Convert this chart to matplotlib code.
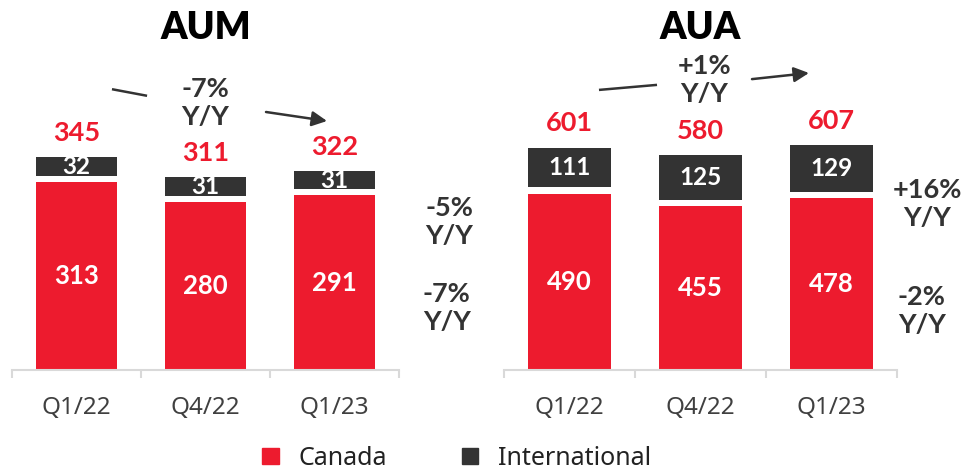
import matplotlib.pyplot as plt
from matplotlib.patches import Patch

quarters = ['Q1/22', 'Q4/22', 'Q1/23']

aum_canada = [313, 280, 291]
aum_intl = [32, 31, 31]
aum_total = [345, 311, 322]

aua_canada = [490, 455, 478]
aua_intl = [111, 125, 129]
aua_total = [601, 580, 607]

RED = '#ED1B2E'
DARK = '#333333'
GREY_TXT = '#404040'
BOLD = 'Lato'

fig = plt.figure(figsize=(9.61, 4.69), dpi=100)
ax1 = fig.add_axes([12 / 961, 99 / 469, 387 / 961, 270 / 469])
ax2 = fig.add_axes([504 / 961, 99 / 469, 393 / 961, 270 / 469])


def draw_panel(ax, title, canada, intl, total, ymax, gap):
    x = range(len(quarters))
    ax.bar(x, canada, width=0.63, color=RED)
    bottoms = [c + gap for c in canada]
    ax.bar(x, intl, width=0.63, bottom=bottoms, color=DARK)
    for i in x:
        ax.text(i, canada[i] / 2, str(canada[i]), ha='center', va='center',
                color='white', fontsize=18.5, fontweight='bold', family=BOLD)
        ax.text(i, bottoms[i] + intl[i] / 2, str(intl[i]), ha='center', va='center',
                color='white', fontsize=17.5, fontweight='bold', family=BOLD)
        ax.text(i, bottoms[i] + intl[i] + ymax * 0.045, str(total[i]), ha='center',
                va='bottom', color=RED, fontsize=19.5, fontweight='bold', family=BOLD)
    ax.set_xlim(-0.5, 2.5)
    ax.set_ylim(0, ymax)
    ax.set_xticks(list(x))
    ax.set_xticklabels(quarters, fontsize=17.5, color=GREY_TXT, family='Noto Sans')
    ax.set_xticks([-0.5, 0.5, 1.5, 2.5], minor=True)
    ax.tick_params(axis='x', which='major', length=0, pad=19)
    ax.tick_params(axis='x', which='minor', length=6, width=1.5, color='#d9d9d9')
    ax.set_yticks([])
    for s in ['top', 'right', 'left']:
        ax.spines[s].set_visible(False)
    ax.spines['bottom'].set_color('#d9d9d9')
    ax.spines['bottom'].set_linewidth(1.5)
    ax.text(0.5, 1.265, title, transform=ax.transAxes, ha='center', va='center',
            fontsize=27, fontweight='heavy', family=BOLD, color='black')


def yy(ax, x, y, label):
    ax.text(x, y, label + '\nY/Y', ha='center', va='center', color=DARK,
            fontsize=19.5, fontweight='bold', family=BOLD, linespacing=1.2,
            clip_on=False)


def arrow(ax, p0, p1, p2, p3):
    ax.plot([p0[0], p1[0]], [p0[1], p1[1]], color=DARK, lw=1.8,
            clip_on=False, solid_capstyle='butt')
    ax.annotate('', xy=p3, xytext=p2, annotation_clip=False,
                arrowprops=dict(arrowstyle='-|>,head_length=0.9,head_width=0.45',
                                color=DARK, lw=1.8, shrinkA=0, shrinkB=0))


draw_panel(ax1, 'AUM', aum_canada, aum_intl, aum_total, 450, 10)
draw_panel(ax2, 'AUA', aua_canada, aua_intl, aua_total, 750, 17)

yy(ax1, 1.0, 445, '-7%')
arrow(ax1, (0.275, 468), (0.547, 457), (1.469, 430), (1.942, 415))
yy(ax1, 2.89, 247, '-5%')
yy(ax1, 2.87, 103, '-7%')

yy(ax2, 1.03, 806, '+1%')
arrow(ax2, (0.225, 778), (0.668, 792), (1.393, 808), (1.828, 825))
yy(ax2, 2.73, 461, '+16%')
yy(ax2, 2.69, 164, '-2%')

handles = [Patch(color=RED, label='Canada'), Patch(color=DARK, label='International')]
leg = fig.legend(handles=handles, loc='center', bbox_to_anchor=(457 / 961, 1 - 458 / 469),
                 ncol=2, frameon=False, handlelength=0.65, handleheight=0.62,
                 handletextpad=0.8, columnspacing=3.0,
                 prop={'family': 'Noto Sans', 'size': 18})
for t in leg.get_texts():
    t.set_color('#222222')

fig.savefig('out.png', dpi=100)
